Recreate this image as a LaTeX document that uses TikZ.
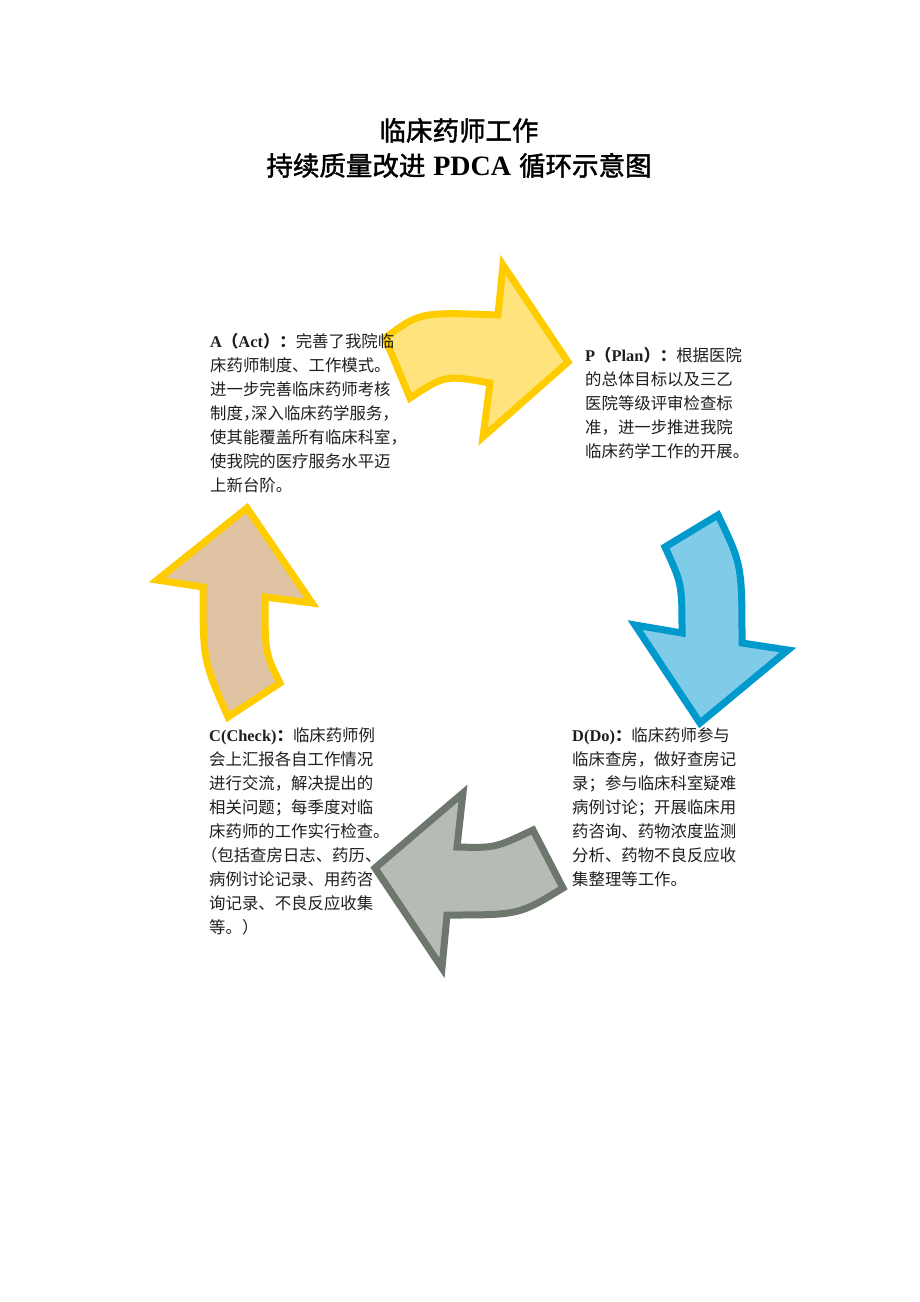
\documentclass[tikz,border=0pt]{standalone}
\usepackage{fontspec}
\setmainfont{Liberation Serif}
\newfontfamily\cjk{Noto Sans CJK SC}
\newfontfamily\cjkt[FakeBold=1.6]{Noto Sans CJK SC}
\newfontfamily\latf{Liberation Serif}
\newcommand{\bl}[1]{{\latf\bfseries #1}}
\newcommand{\bc}[1]{{\cjk\bfseries #1}}
\newcommand{\hl}[1]{\makebox[0.5em][l]{#1}}
\newcommand{\hr}[1]{\makebox[0.5em][r]{#1}}
\definecolor{ystroke}{HTML}{FFCC00}
\definecolor{yfill}{HTML}{FFE47E}
\definecolor{bstroke}{HTML}{0099CC}
\definecolor{bfill}{HTML}{80CCE8}
\definecolor{gstroke}{HTML}{6D776D}
\definecolor{gfill}{HTML}{B6BCB5}
\definecolor{tfill}{HTML}{DFC3A2}
\begin{document}
\begin{tikzpicture}[x=1pt,y=-1pt,
  arr/.style={line width=7pt, line join=miter, miter limit=10},
  blocktext/.style={anchor=north west, inner sep=0pt, align=left,
    font=\cjk\fontsize{16.4}{24}\selectfont, text=black!88},
  titletext/.style={inner sep=0pt, align=center,
    font=\cjkt\fontsize{26.5}{35}\selectfont}]
\useasboundingbox[fill=white] (0,0) rectangle (920,1302);

% title
\node[titletext] (title) at (459,148) {临床药师工作\\持续质量改进\hspace{0.3em}{\fontsize{28}{35}\selectfont\bl{PDCA}}\hspace{0.3em}循环示意图};

% arrows
\draw[arr, draw=ystroke, fill=yfill] (385,338) .. controls (420,312) .. (498,315)
  -- (503,265) -- (568,362) -- (483,437) -- (490,383)
  .. controls (445,375) .. (410,398) -- cycle;
\draw[arr, draw=bstroke, fill=bfill] (718,515) .. controls (742,565) .. (742,643)
  -- (788,650) -- (700,723) -- (635,625) -- (682,633)
  .. controls (682,584) .. (665,547) -- cycle;
\draw[arr, draw=gstroke, fill=gfill] (563,888) .. controls (519,915) .. (447,915)
  -- (442,968) -- (375,868) -- (463,793) -- (457,847)
  .. controls (495,848) .. (533,830) -- cycle;
\draw[arr, draw=ystroke, fill=tfill] (247,508) -- (312,603) -- (265,597)
  .. controls (265,653) .. (280,683) -- (228,717)
  .. controls (203,660) .. (203,587) -- (157,580) -- cycle;

% text blocks
\node[blocktext] (act) at (210,333) {\bl{A}\bc{（}\bl{Act}\bc{）：}完善了我院临\\
床药师制度、工作模式。\\
进一步完善临床药师考核\\
制度\hl{，}深入临床药学服务\hl{，}\\
使其能覆盖所有临床科室\hl{，}\\
使我院的医疗服务水平迈\\
上新台阶。};

\node[blocktext] (plan) at (585,347) {\bl{P}\bc{（}\bl{Plan}\bc{）：}根据医院\\
的总体目标以及三乙\\
医院等级评审检查标\\
准，进一步推进我院\\
临床药学工作的开展。};

\node[blocktext] (do) at (572,727) {\bl{D(Do)}\bc{：}临床药师参与\\
临床查房，做好查房记\\
录；参与临床科室疑难\\
病例讨论；开展临床用\\
药咨询、药物浓度监测\\
分析、药物不良反应收\\
集整理等工作。};

\node[blocktext] (check) at (209,727) {\bl{C(Check)}\bc{：}临床药师例\\
会上汇报各自工作情况\\
进行交流，解决提出的\\
相关问题；每季度对临\\
床药师的工作实行检查\hl{。}\\
\hr{（}包括查房日志、药历\hl{、}\\
病例讨论记录、用药咨\\
询记录、不良反应收集\\
等。）};
\end{tikzpicture}
\end{document}
